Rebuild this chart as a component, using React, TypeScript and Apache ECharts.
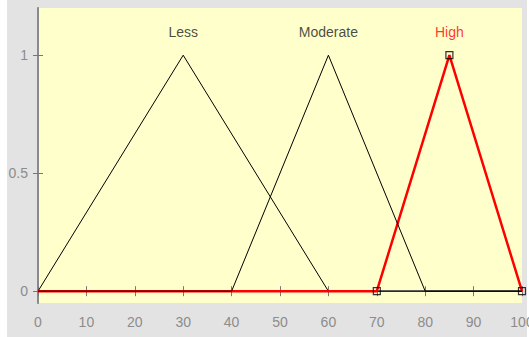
import React, { useEffect, useRef } from "react";
import * as echarts from "echarts";

const xTicks = [0, 10, 20, 30, 40, 50, 60, 70, 80, 90, 100];
const yTicks = [0, 0.5, 1];
const mfNames = ["Less", "Moderate", "High"];
const lessPts = [[0, 0], [30, 1], [60, 0], [100, 0]];
const moderatePts = [[0, 0], [40, 0], [60, 1], [80, 0], [100, 0]];
const highPts = [[0, 0], [70, 0], [85, 1], [100, 0]];
const highMarkers = [[70, 0], [85, 1], [100, 0]];
const labelX = [30, 60, 85];
const labelY = 1.1;
const labelColors = ["#1a1a1a", "#1a1a1a", "#ff0000"];

const FONT = "'Liberation Sans Narrow', 'Liberation Sans', Arial, sans-serif";
const AXIS_GRAY = "#8c8c8c";

export default function App() {
  const ref = useRef<HTMLDivElement>(null);
  useEffect(() => {
    const chart = echarts.init(ref.current!, null, { renderer: "svg" });
    const axisCommon = {
      axisLine: { show: true, lineStyle: { color: AXIS_GRAY, width: 1 } },
      splitLine: { show: false },
    };
    chart.setOption({
      animation: false,
      backgroundColor: "transparent",
      grid: {
        left: 38,
        top: 8,
        width: 484,
        height: 295,
        show: true,
        backgroundColor: "#ffffcc",
        borderWidth: 0,
        containLabel: false,
        outerBoundsMode: "none",
      },
      xAxis: [
        {
          type: "value",
          position: "bottom",
          min: 0,
          max: 100,
          interval: 10,
          ...axisCommon,
          axisTick: { show: true, inside: true, length: 5, lineStyle: { color: "#777" } },
          axisLabel: { color: AXIS_GRAY, fontSize: 14, fontFamily: FONT, margin: 12 },
        },
        {
          type: "value",
          position: "top",
          min: 0,
          max: 100,
          interval: 10,
          axisLine: { show: true, lineStyle: { color: "#8a8a8a", width: 2 } },
          splitLine: { show: false },
          axisTick: { show: true, inside: true, length: 5, lineStyle: { color: "#777" } },
          axisLabel: { show: false },
        },
      ],
      yAxis: [
        {
          type: "value",
          position: "left",
          min: -0.05,
          max: 1.2,
          ...axisCommon,
          axisTick: { show: true, inside: true, length: 5, customValues: yTicks, lineStyle: { color: "#777" } },
          axisLabel: {
            color: AXIS_GRAY,
            fontSize: 14,
            fontFamily: FONT,
            margin: 10,
            customValues: yTicks,
            formatter: (v: number) => String(v),
          },
        },
        {
          type: "value",
          position: "right",
          min: -0.05,
          max: 1.2,
          axisLine: { show: true, lineStyle: { color: "#8a8a8a", width: 2 } },
          splitLine: { show: false },
          axisTick: { show: true, inside: true, length: 5, customValues: yTicks, lineStyle: { color: "#777" } },
          axisLabel: { show: false },
        },
      ],
      series: [
        {
          name: mfNames[0],
          type: "line",
          data: lessPts,
          showSymbol: false,
          lineStyle: { color: "#000", width: 1 },
          z: 2,
        },
        {
          name: mfNames[2],
          type: "line",
          data: highPts,
          showSymbol: false,
          lineStyle: { color: "#ff0000", width: 2.5 },
          z: 3,
        },
        {
          name: mfNames[1],
          type: "line",
          data: moderatePts,
          showSymbol: false,
          lineStyle: { color: "#000", width: 1 },
          z: 4,
        },
        {
          type: "scatter",
          data: highMarkers,
          symbol: "rect",
          symbolSize: 7,
          itemStyle: { color: "transparent", borderColor: "#000", borderWidth: 1.2 },
          z: 5,
        },
        {
          type: "scatter",
          data: mfNames.map((n, i) => ({
            value: [labelX[i], labelY],
            name: n,
            label: { color: labelColors[i] },
          })),
          symbolSize: 0,
          label: {
            show: true,
            position: "inside",
            formatter: (p: any) => p.name,
            fontFamily: FONT,
            fontSize: 14,
          },
          z: 6,
        },
      ],
    });
    return () => chart.dispose();
  }, []);
  return (
    <div
      style={{
        position: "fixed",
        left: 0,
        top: 0,
        width: 529,
        height: 337,
        background: "#ffffff",
      }}
    >
      <div style={{ position: "absolute", left: 7, top: 0, width: 520, height: 337, background: "#e3e3e3" }} />
      <div ref={ref} style={{ position: "absolute", left: 0, top: 0, width: 529, height: 337 }} />
    </div>
  );
}
